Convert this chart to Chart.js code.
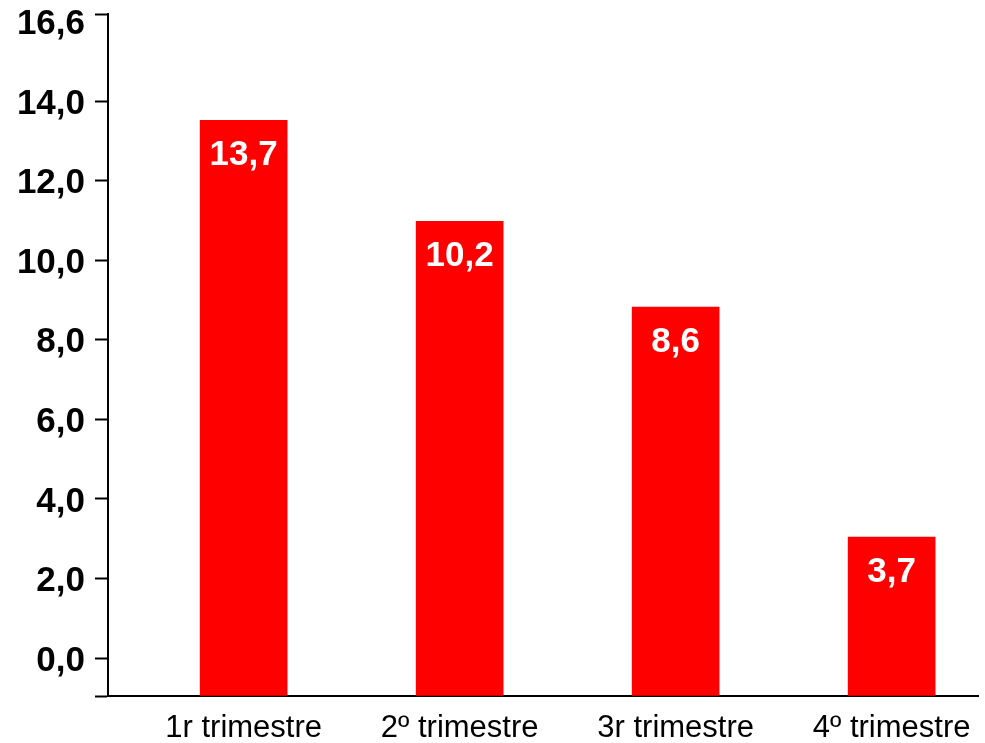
<!DOCTYPE html>
<html>
<head>
<meta charset="utf-8">
<title>Trimestres</title>
<script src="https://cdn.jsdelivr.net/npm/chart.js@4/dist/chart.umd.min.js"></script>
<style>
    body { margin: 0; background: #ffffff; }
    #wrap { width: 985px; height: 743px; position: relative; }
</style>
</head>
<body>
<div id="wrap"><canvas id="barChart"></canvas></div>
<script>
// data
const categories = ["1r trimestre", "2º trimestre", "3r trimestre", "4º trimestre"];
const barValues = [13.52, 10.98, 8.82, 3.04];
const barLabels = ["13,7", "10,2", "8,6", "3,7"];
const yTickValues = [0, 2, 4, 6, 8, 10, 12, 14];
const yTickLabels = ["0,0", "2,0", "4,0", "6,0", "8,0", "10,0", "12,0", "14,0"];
const yTopLabel = "16,6";

const Y_MIN = -0.955;
const Y_MAX = 16.19;
const FONT = "Arial, 'Liberation Sans', sans-serif";

const canvas = document.getElementById("barChart");

// white value labels inside the top of each bar
const barLabelPlugin = {
    id: "barLabels",
    afterDatasetsDraw(chart) {
        const ctx = chart.ctx;
        const meta = chart.getDatasetMeta(0);
        ctx.save();
        ctx.fillStyle = "#ffffff";
        ctx.font = "bold 35px " + FONT;
        ctx.textAlign = "center";
        ctx.textBaseline = "middle";
        meta.data.forEach((bar, i) => {
            ctx.fillText(barLabels[i], bar.x, bar.y + 35);
        });
        ctx.restore();
    }
};

new Chart(canvas.getContext("2d"), {
    type: "bar",
    data: {
        datasets: [{
            data: barValues.map((v, i) => ({ x: i + 1, y: v })),
            backgroundColor: "#ff0000",
            borderWidth: 0,
            barThickness: 87,
            base: Y_MIN
        }]
    },
    options: {
        responsive: true,
        maintainAspectRatio: false,
        animation: false,
        layout: { padding: { top: 0, right: 5, bottom: 0, left: 0 } },
        plugins: {
            legend: { display: false },
            tooltip: { enabled: false }
        },
        scales: {
            x: {
                type: "linear",
                offset: false,
                min: 0.372,
                max: 4.4016,
                afterBuildTicks: (scale) => {
                    scale.ticks = categories.map((c, i) => ({ value: i + 1 }));
                },
                afterFit: (scale) => {
                    scale.height = 47;
                },
                ticks: {
                    autoSkip: false,
                    maxRotation: 0,
                    padding: 14,
                    color: "#000000",
                    font: { family: FONT, size: 31 },
                    callback: (value) => categories[Math.round(value) - 1]
                },
                grid: { display: false, drawTicks: false, offset: false },
                border: { display: true, color: "#000000", width: 2 }
            },
            y: {
                min: Y_MIN,
                max: Y_MAX,
                afterBuildTicks: (scale) => {
                    const vals = [Y_MIN].concat(yTickValues, [Y_MAX]);
                    scale.ticks = vals.map(v => ({ value: v }));
                },
                afterFit: (scale) => {
                    scale.width = 108;
                    scale.paddingTop = 14;
                    scale.paddingBottom = 0;
                },
                ticks: {
                    autoSkip: false,
                    padding: 10,
                    color: "#000000",
                    // two-line labels with an empty first line push the text a bit below its tick
                    font: (ctx) => ({
                        family: FONT,
                        size: 35,
                        weight: "bold",
                        lineHeight: ctx.tick && ctx.tick.value === Y_MAX ? 0.57 : 0.17
                    }),
                    callback: (value) => {
                        if (value === Y_MAX) return ["", yTopLabel];
                        const idx = yTickValues.indexOf(value);
                        return idx >= 0 ? ["", yTickLabels[idx]] : "";
                    }
                },
                grid: {
                    drawOnChartArea: false,
                    drawTicks: true,
                    tickLength: 13,
                    tickColor: "#000000",
                    tickWidth: 2
                },
                border: { display: true, color: "#000000", width: 2 }
            }
        }
    },
    plugins: [barLabelPlugin]
});
</script>
</body>
</html>
